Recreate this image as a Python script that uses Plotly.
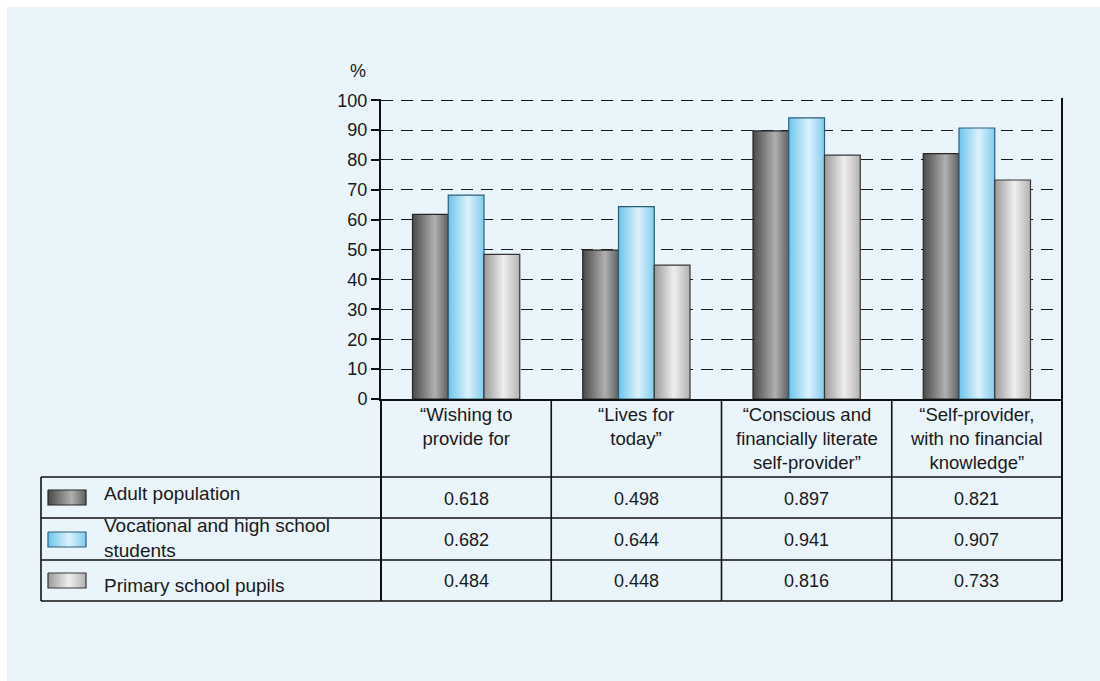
import plotly.graph_objects as go

# ---------------- data ----------------
categories = [
    "“Wishing to<br>provide for",
    "“Lives for<br>today”",
    "“Conscious and<br>financially literate<br>self-provider”",
    "“Self-provider,<br>with no financial<br>knowledge”",
]
series_names = [
    "Adult population",
    "Vocational and high school<br>students",
    "Primary school pupils",
]
adult = [61.8, 49.8, 89.7, 82.1]
vocational = [68.2, 64.4, 94.1, 90.7]
primary = [48.4, 44.8, 81.6, 73.3]
y_ticks = [0, 10, 20, 30, 40, 50, 60, 70, 80, 90, 100]

series_values = [adult, vocational, primary]

# ---------------- styles ----------------
W, H = 1100, 681
BG = "#EAF4FB"
FONT = "Liberation Sans, Arial, Helvetica, sans-serif"
TXT = "#1a1a1a"
gradients = [
    [[0, "#4a4a4a"], [0.62, "#b0b0b0"], [1, "#606060"]],
    [[0, "#6cc4ea"], [0.55, "#dcf2fc"], [1, "#82ccee"]],
    [[0, "#9a9a9a"], [0.55, "#efefef"], [1, "#b2b2b2"]],
]
outlines = ["#262626", "#2a5f7a", "#363636"]

# plot area in pixels
PX_L, PX_R, PX_T, PX_B = 381, 1062, 99, 399
TABLE_L = 41
HEADER_B = 477
ROW_B = [518, 560, 601]
ROW_MID = [499, 540, 581]
LEG_MID = [493, 538, 585]
ICON_Y = [(490, 505), (532, 547), (573, 588)]
ICON_X = (48, 86)

bar_w = 0.21
offsets = [-bar_w, 0.0, bar_w]

fig = go.Figure()

# bars (drawn as gradient-filled polygons on the data axes)
for s, vals in enumerate(series_values):
    for i, v in enumerate(vals):
        c = i + offsets[s]
        x0, x1 = c - bar_w / 2, c + bar_w / 2
        fig.add_trace(go.Scatter(
            x=[x0, x0, x1, x1, x0], y=[0, v, v, 0, 0],
            mode="lines", fill="toself",
            line=dict(color=outlines[s], width=1.2),
            fillgradient=dict(type="horizontal", colorscale=gradients[s]),
            hoverinfo="skip", showlegend=False,
            xaxis="x", yaxis="y",
        ))

# legend icons in a pixel-coordinate overlay axis
for s in range(3):
    x0, x1 = ICON_X
    y0, y1 = ICON_Y[s]
    fig.add_trace(go.Scatter(
        x=[x0, x0, x1, x1, x0], y=[y0, y1, y1, y0, y0],
        mode="lines", fill="toself",
        line=dict(color=outlines[s], width=1.2),
        fillgradient=dict(type="horizontal", colorscale=gradients[s]),
        hoverinfo="skip", showlegend=False,
        xaxis="x2", yaxis="y2",
    ))


def px(x):
    return x / W


def py(y):
    return 1 - y / H


shapes = []
# white frame at top/left
shapes.append(dict(type="rect", xref="paper", yref="paper", x0=0, x1=1, y0=py(7), y1=1,
                   fillcolor="white", line=dict(width=0), layer="above"))
shapes.append(dict(type="rect", xref="paper", yref="paper", x0=0, x1=px(7), y0=0, y1=1,
                   fillcolor="white", line=dict(width=0), layer="above"))

LINE = dict(color="#111111", width=1.6)
# horizontal table lines
for yy in [HEADER_B] + ROW_B:
    shapes.append(dict(type="line", xref="paper", yref="paper",
                       x0=px(TABLE_L), x1=px(PX_R), y0=py(yy), y1=py(yy), line=LINE))
# left table edge
shapes.append(dict(type="line", xref="paper", yref="paper",
                   x0=px(TABLE_L), x1=px(TABLE_L), y0=py(HEADER_B), y1=py(ROW_B[-1]), line=LINE))
# column separators
col_w = (PX_R - PX_L) / len(categories)
for k in range(len(categories) + 1):
    xx = PX_L + k * col_w
    ytop = PX_B
    if k == len(categories):
        ytop = PX_T - 1
    lw = 2 if k in (0, len(categories)) else 1.6
    shapes.append(dict(type="line", xref="paper", yref="paper",
                       x0=px(xx), x1=px(xx), y0=py(ytop), y1=py(ROW_B[-1]),
                       line=dict(color="#111111", width=lw)))

annotations = []
# category headers
for i, cat in enumerate(categories):
    cx = PX_L + (i + 0.5) * col_w
    annotations.append(dict(xref="paper", yref="paper", x=px(cx), y=py(402),
                            text=cat, showarrow=False, xanchor="center", yanchor="top",
                            font=dict(family=FONT, size=18.5, color=TXT)))
# legend labels
for s, name in enumerate(series_names):
    annotations.append(dict(xref="paper", yref="paper", x=px(102), y=py(LEG_MID[s]),
                            text=name, showarrow=False, xanchor="left", yanchor="middle",
                            align="left",
                            font=dict(family=FONT, size=19, color=TXT)))
# table values
for s, vals in enumerate(series_values):
    for i, v in enumerate(vals):
        cx = PX_L + (i + 0.5) * col_w
        annotations.append(dict(xref="paper", yref="paper", x=px(cx), y=py(ROW_MID[s]),
                                text=f"{v / 100:.3f}", showarrow=False,
                                xanchor="center", yanchor="middle",
                                font=dict(family=FONT, size=18, color=TXT)))
# % unit
annotations.append(dict(xref="paper", yref="paper", x=px(358), y=py(71), text="%",
                        showarrow=False, xanchor="center", yanchor="middle",
                        font=dict(family=FONT, size=18, color=TXT)))

fig.update_layout(
    template="none",
    width=W, height=H, autosize=False,
    margin=dict(l=0, r=0, t=0, b=0, pad=0, autoexpand=False),
    paper_bgcolor=BG, plot_bgcolor="rgba(0,0,0,0)",
    showlegend=False,
    font=dict(family=FONT, size=18, color=TXT),
    xaxis=dict(domain=[px(PX_L), px(PX_R)], range=[-0.5, len(categories) - 0.5],
               showgrid=False, zeroline=False, showticklabels=False, ticks="",
               showline=True, linecolor="#111111", linewidth=2, anchor="y",
               fixedrange=True, automargin=False),
    yaxis=dict(domain=[py(PX_B), py(PX_T)], range=[0, 100.4], tickvals=y_ticks,
               ticks="outside", ticklen=8, tickwidth=2, tickcolor="#111111",
               showline=True, linecolor="#111111", linewidth=2,
               showgrid=True, gridcolor="#1a1a1a", gridwidth=1, griddash="12px,8px",
               zeroline=False, anchor="x", automargin=False,
               tickfont=dict(family=FONT, size=18, color=TXT), fixedrange=True),
    xaxis2=dict(domain=[0, 1], range=[0, W], visible=False, anchor="y2",
                fixedrange=True, automargin=False),
    yaxis2=dict(domain=[0, 1], range=[H, 0], visible=False, anchor="x2",
                fixedrange=True, automargin=False),
    shapes=shapes,
    annotations=annotations,
)

fig.write_html("out.html")
